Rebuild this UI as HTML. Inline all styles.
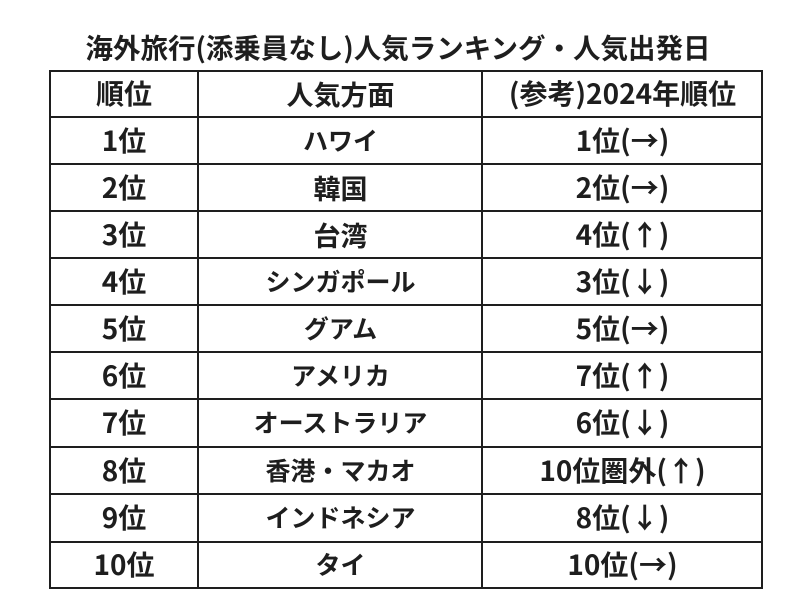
<!DOCTYPE html>
<html><head><meta charset="utf-8">
<style>
html,body{margin:0;padding:0;background:#fff;}
body{width:796px;height:610px;position:relative;overflow:hidden;font-family:"Liberation Sans","Noto Sans CJK JP",sans-serif;color:#1e1e1e;}
.t{position:absolute;left:0;width:796px;top:27px;text-align:center;font-family:"Noto Sans CJK JP","Liberation Sans",sans-serif;font-weight:bold;font-size:27.5px;line-height:38px;white-space:nowrap;}
.h{position:absolute;background:#1e1e1e;height:2px;left:49px;width:714px;}
.v{position:absolute;background:#1e1e1e;width:2px;top:70px;height:519px;}
.c{position:absolute;text-align:center;font-family:"Noto Sans CJK JP","Liberation Sans",sans-serif;font-weight:bold;font-size:28px;line-height:47px;height:47px;white-space:nowrap;}
.k{font-size:25px;}
.c1{left:50px;width:148px;}
.c2{left:199px;width:283px;}
.c3{left:483px;width:279px;}
</style></head><body>
<div class="t">海外旅行(添乗員なし)人気ランキング・人気出発日</div>
<div class="h" style="top:70px"></div>
<div class="h" style="top:116px"></div>
<div class="h" style="top:163px"></div>
<div class="h" style="top:210px"></div>
<div class="h" style="top:257px"></div>
<div class="h" style="top:304px"></div>
<div class="h" style="top:351px"></div>
<div class="h" style="top:398px"></div>
<div class="h" style="top:446px"></div>
<div class="h" style="top:493px"></div>
<div class="h" style="top:541px"></div>
<div class="h" style="top:587px"></div>
<div class="v" style="left:49px"></div>
<div class="v" style="left:197px"></div>
<div class="v" style="left:481px"></div>
<div class="v" style="left:761px"></div>

<div class="c c1" style="top:70px">順位</div><div class="c c2" style="top:70px;font-size:27px">人気方面</div><div class="c c3" style="top:70px">(参考)2024年順位</div>
<div class="c c1" style="top:117px">1位</div><div class="c c2 k" style="top:117px">ハワイ</div><div class="c c3" style="top:117px">1位(→)</div>
<div class="c c1" style="top:164px">2位</div><div class="c c2" style="top:164px;font-size:27px">韓国</div><div class="c c3" style="top:164px">2位(→)</div>
<div class="c c1" style="top:211px">3位</div><div class="c c2" style="top:211px;font-size:27px">台湾</div><div class="c c3" style="top:211px">4位(↑)</div>
<div class="c c1" style="top:258px">4位</div><div class="c c2 k" style="top:258px">シンガポール</div><div class="c c3" style="top:258px">3位(↓)</div>
<div class="c c1" style="top:305px">5位</div><div class="c c2 k" style="top:305px">グアム</div><div class="c c3" style="top:305px">5位(→)</div>
<div class="c c1" style="top:352px">6位</div><div class="c c2 k" style="top:352px">アメリカ</div><div class="c c3" style="top:352px">7位(↑)</div>
<div class="c c1" style="top:399px">7位</div><div class="c c2 k" style="top:399px">オーストラリア</div><div class="c c3" style="top:399px">6位(↓)</div>
<div class="c c1" style="top:447px">8位</div><div class="c c2 k" style="top:447px">香港・マカオ</div><div class="c c3" style="top:447px">10位圏外(↑)</div>
<div class="c c1" style="top:494px">9位</div><div class="c c2 k" style="top:494px">インドネシア</div><div class="c c3" style="top:494px">8位(↓)</div>
<div class="c c1" style="top:541px">10位</div><div class="c c2 k" style="top:541px">タイ</div><div class="c c3" style="top:541px">10位(→)</div>
</body></html>
